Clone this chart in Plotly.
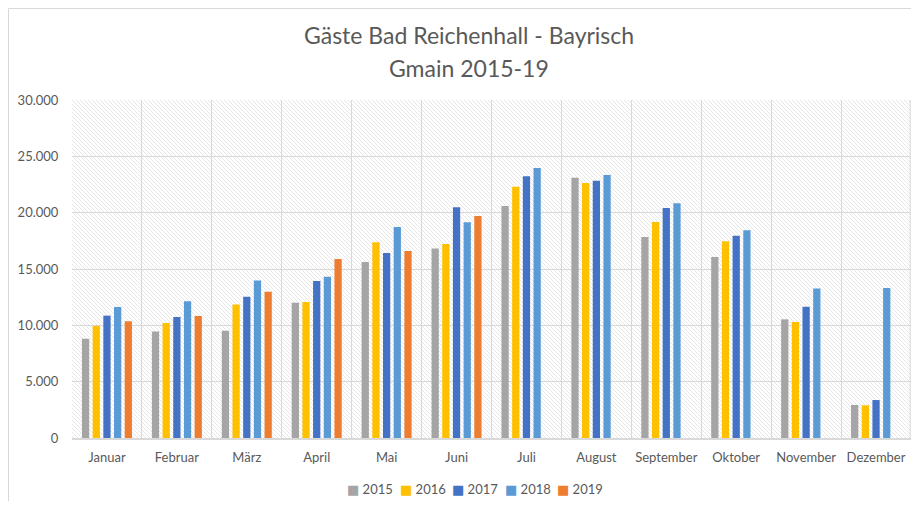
import base64
import plotly.graph_objects as go

months = ["Januar", "Februar", "März", "April", "Mai", "Juni", "Juli",
          "August", "September", "Oktober", "November", "Dezember"]
years = ["2015", "2016", "2017", "2018", "2019"]

g2015 = [8800, 9450, 9530, 12010, 15620, 16830, 20590, 23110, 17840, 16070, 10530, 2930]
g2016 = [9950, 10210, 11860, 12070, 17370, 17220, 22310, 22630, 19170, 17460, 10300, 2900]
g2017 = [10860, 10740, 12540, 13940, 16420, 20470, 23230, 22840, 20410, 17960, 11660, 3370]
g2018 = [11630, 12130, 13990, 14320, 18730, 19140, 23960, 23340, 20830, 18430, 13280, 13310]
g2019 = [10360, 10830, 12990, 15890, 16600, 19700, None, None, None, None, None, None]

series = [g2015, g2016, g2017, g2018, g2019]
colors = ["#A5A5A5", "#FFC000", "#4472C4", "#5B9BD5", "#ED7D31"]

fig = go.Figure()
for name, vals, col in zip(years, series, colors):
    fig.add_trace(go.Bar(name=name, x=months, y=vals, showlegend=False,
                         marker=dict(color=col, line=dict(width=0))))

# page has an 8px body margin: figure is drawn from page (8, 8)
OFF = 8
W, H = 919 - 2 * OFF, 509 - 2 * OFF
L, R, T, B = 72 - OFF, 0, 100 - OFF, (OFF + H) - 438
PW, PH = W - L - R, H - T - B


def px_x(x):
    return (x - OFF - L) / PW


def px_y(y):
    return (OFF + H - B - y) / PH


svg = ('<svg xmlns="http://www.w3.org/2000/svg" width="%d" height="%d">'
       '<defs><pattern id="p" width="4" height="4" patternUnits="userSpaceOnUse">'
       '<rect width="4" height="4" fill="#ffffff"/>'
       '<path d="M-1,-1 L5,5 M-1,3 L1,5 M3,-1 L5,1" stroke="#e6e6e6" stroke-width="1"/>'
       '</pattern></defs><rect width="%d" height="%d" fill="url(#p)"/></svg>') % (PW, PH, PW, PH)
uri = "data:image/svg+xml;base64," + base64.b64encode(svg.encode()).decode()

font_col = "#595959"

annotations = [
    dict(text="Gäste Bad Reichenhall - Bayrisch", xref="paper", yref="paper",
         x=px_x(469), y=px_y(35), xanchor="center", yanchor="middle", showarrow=False,
         font=dict(size=23, color=font_col)),
    dict(text="Gmain 2015-19", xref="paper", yref="paper",
         x=px_x(469), y=px_y(68), xanchor="center", yanchor="middle", showarrow=False,
         font=dict(size=23, color=font_col)),
]
# legend entries (text with coloured square glyph)
leg_x = [345, 398, 450, 503, 555]
for lx, name, col in zip(leg_x, years, colors):
    annotations.append(dict(
        text="<span style='color:%s;font-family:DejaVu Sans'>■</span> %s" % (col, name),
        xref="paper", yref="paper", x=px_x(lx), y=px_y(489), xanchor="left", yanchor="middle",
        showarrow=False, font=dict(size=13, color=font_col)))

fig.update_layout(
    width=W, height=H,
    margin=dict(l=L, r=R, t=T, b=B, autoexpand=False),
    paper_bgcolor="white",
    plot_bgcolor="white",
    separators=",.",
    showlegend=False,
    font=dict(family="Lato, Open Sans, sans-serif", color=font_col, size=13),
    barmode="group", bargap=0.236, bargroupgap=0.32,
    xaxis=dict(type="category", tickson="boundaries", showgrid=True, gridcolor="#d9d9d9",
               gridwidth=1, showline=True, linecolor="#d9d9d9", linewidth=2,
               ticks="", ticklabelstandoff=6,
               tickangle=0, automargin=False,
               tickfont=dict(size=13, color=font_col)),
    yaxis=dict(range=[0, 30000], dtick=5000, tickformat=",d", showgrid=True,
               gridcolor="#d9d9d9", gridwidth=1, zeroline=False, showline=False,
               ticks="outside", ticklen=10, tickcolor="rgba(0,0,0,0)", automargin=False,
               tickfont=dict(size=13, color=font_col)),
    annotations=annotations,
    images=[dict(source=uri, xref="paper", yref="paper", x=0, y=1, sizex=1, sizey=1,
                 xanchor="left", yanchor="top", sizing="stretch", layer="below")],
    shapes=[dict(type="rect", xref="paper", yref="paper",
                 x0=px_x(8.5), x1=px_x(930), y0=px_y(530), y1=px_y(8.5),
                 line=dict(color="#d9d9d9", width=1), fillcolor="rgba(0,0,0,0)", layer="below"),
            dict(type="line", xref="paper", yref="paper", x0=0.999, x1=0.999, y0=0, y1=1,
                 line=dict(color="#d9d9d9", width=1))],
)
fig.write_html("out.html")
